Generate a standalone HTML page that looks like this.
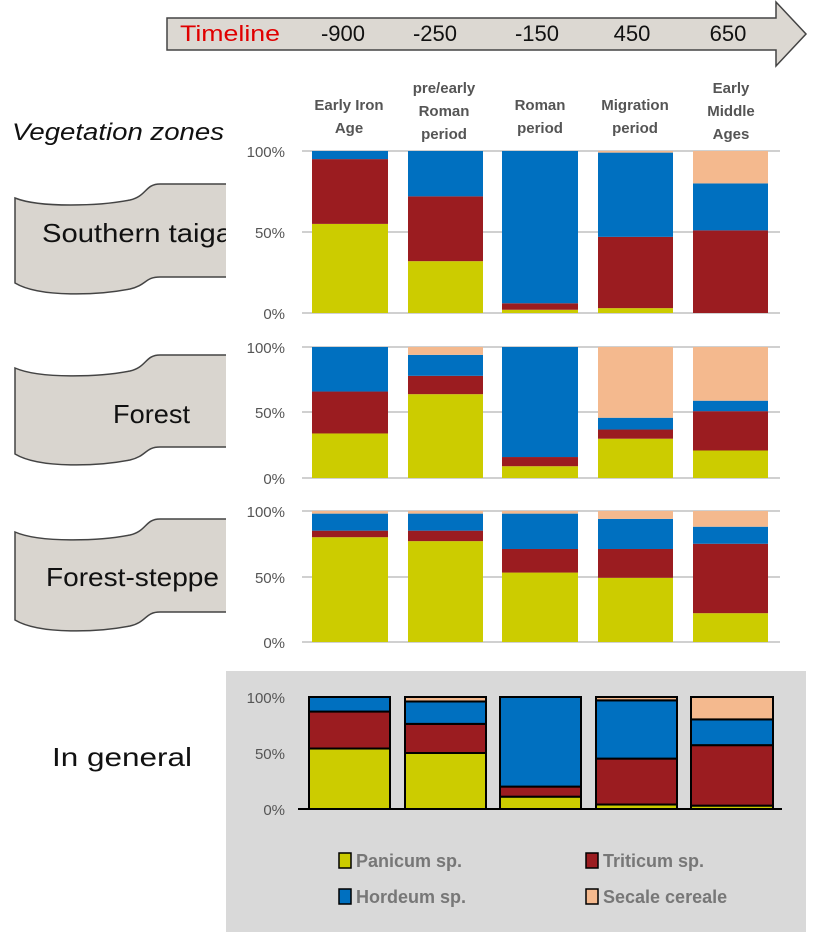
<!DOCTYPE html>
<html><head><meta charset="utf-8"><style>
html,body{margin:0;padding:0;background:#fff;}
svg{display:block;}
</style></head><body>
<svg width="819" height="935" viewBox="0 0 819 935" xmlns="http://www.w3.org/2000/svg" font-family="Liberation Sans, sans-serif">
<path d="M167 18 L776 18 L776 2 L806 34 L776 66 L776 50 L167 50 Z" fill="#dcd8d2" stroke="#444" stroke-width="1.5"/>
<text x="180" y="41" font-size="22" fill="#e00000" textLength="100" lengthAdjust="spacingAndGlyphs">Timeline</text>
<g font-size="22" fill="#111" text-anchor="middle">
<text x="343" y="41">-900</text><text x="435" y="41">-250</text><text x="537" y="41">-150</text><text x="632" y="41">450</text><text x="728" y="41">650</text>
</g>
<text x="12" y="140" font-size="24" font-style="italic" fill="#111" textLength="212" lengthAdjust="spacingAndGlyphs">Vegetation zones</text>
<g font-size="15" fill="#555" text-anchor="middle" font-weight="bold">
<text x="349" y="110">Early Iron</text><text x="349" y="133">Age</text>
<text x="444" y="93">pre/early</text><text x="444" y="116">Roman</text><text x="444" y="139">period</text>
<text x="540" y="110">Roman</text><text x="540" y="133">period</text>
<text x="635" y="110">Migration</text><text x="635" y="133">period</text>
<text x="731" y="93">Early</text><text x="731" y="116">Middle</text><text x="731" y="139">Ages</text>
</g>
<g fill="#d9d5cf" stroke="#444" stroke-width="1.5">
<path d="M226 184 L160 184 C145 184 147 196 130 200 C100 206 40 208 15 198 L15 283 C40 298 100 295 130 289 C147 285 145 277 160 277 L226 277"/>
<path d="M226 355 L160 355 C145 355 147 367 130 371 C100 377 40 379 15 368 L15 454 C40 469 100 466 130 460 C147 456 145 447 160 447 L226 447"/>
<path d="M226 519 L160 519 C145 519 147 531 130 535 C100 541 40 543 15 532 L15 620 C40 635 100 632 130 626 C147 622 145 612 160 612 L226 612"/>
</g>
<g font-size="26" fill="#111" lengthAdjust="spacingAndGlyphs">
<text x="42" y="242" textLength="190" lengthAdjust="spacingAndGlyphs">Southern taiga</text>
<text x="113" y="423" textLength="77" lengthAdjust="spacingAndGlyphs">Forest</text>
<text x="46" y="586" textLength="173" lengthAdjust="spacingAndGlyphs">Forest-steppe</text>
<text x="52" y="766" textLength="140" lengthAdjust="spacingAndGlyphs">In general</text>
</g>
<rect x="226" y="150" width="10" height="160" fill="#fff"/>
<g stroke="#d0d0d0" stroke-width="2">
<line x1="302" y1="151" x2="780" y2="151"/><line x1="302" y1="232" x2="780" y2="232"/><line x1="302" y1="313" x2="780" y2="313"/>
<line x1="302" y1="347" x2="780" y2="347"/><line x1="302" y1="412" x2="780" y2="412"/><line x1="302" y1="478" x2="780" y2="478"/>
<line x1="302" y1="511" x2="780" y2="511"/><line x1="302" y1="577" x2="780" y2="577"/><line x1="302" y1="642" x2="780" y2="642"/>
</g>
<g font-size="15" fill="#555" text-anchor="end">
<text x="285" y="157">100%</text><text x="285" y="238">50%</text><text x="285" y="319">0%</text>
<text x="285" y="353">100%</text><text x="285" y="418">50%</text><text x="285" y="484">0%</text>
<text x="285" y="517">100%</text><text x="285" y="583">50%</text><text x="285" y="648">0%</text>
</g>
<g id="bars"></g>
<rect x="226" y="671" width="580" height="261" fill="#d9d9d9"/>
<g font-size="15" fill="#555" text-anchor="end">
<text x="285" y="703">100%</text><text x="285" y="759">50%</text><text x="285" y="815">0%</text>
</g>
<g id="bars4"></g>
<line x1="298" y1="809" x2="782" y2="809" stroke="#000" stroke-width="2"/>
<g stroke="#000" stroke-width="1.5">
<rect x="339" y="853" width="12" height="15" fill="#cccc00"/>
<rect x="586" y="853" width="12" height="15" fill="#9b1c20"/>
<rect x="339" y="889" width="12" height="15" fill="#0070c0"/>
<rect x="586" y="889" width="12" height="15" fill="#f4b98e"/>
</g>
<g font-size="18" fill="#777" font-weight="bold">
<text x="356" y="867">Panicum sp.</text><text x="603" y="867">Triticum sp.</text>
<text x="356" y="903">Hordeum sp.</text><text x="603" y="903">Secale cereale</text>
</g>
<script>
var C=["#cccc00","#9b1c20","#0070c0","#f4b98e"];
var xs=[[312,76],[408,75],[502,76],[598,75],[693,75]];
var panels=[
 {t:151,b:313,d:[[55,40,5,0],[32,40,28,0],[2,4,94,0],[3,44,52,1],[0,51,29,20]]},
 {t:347,b:478,d:[[34,32,34,0],[64,14,16,6],[9,7,84,0],[30,7,9,54],[21,30,8,41]]},
 {t:511,b:642,d:[[80,5,13,2],[77,8,13,2],[53,18,27,2],[49,22,23,6],[22,53,13,12]]}];
var ns="http://www.w3.org/2000/svg",g=document.getElementById("bars");
panels.forEach(function(p){var h=p.b-p.t;p.d.forEach(function(v,i){var y=p.b;v.forEach(function(f,k){if(!f)return;var hh=f/100*h;var r=document.createElementNS(ns,"rect");r.setAttribute("x",xs[i][0]);r.setAttribute("width",xs[i][1]);r.setAttribute("y",y-hh);r.setAttribute("height",hh);r.setAttribute("fill",C[k]);g.appendChild(r);y-=hh;});});});
var g4=document.getElementById("bars4"),x4=[[309,81],[405,81],[500,81],[596,81],[691,82]];
var d4=[[54,33,13,0],[50,26,20,4],[11,9,80,0],[4,41,52,3],[3,54,23,20]];
d4.forEach(function(v,i){var y=809,h=112;v.forEach(function(f,k){if(!f)return;var hh=f/100*h;var r=document.createElementNS(ns,"rect");r.setAttribute("x",x4[i][0]);r.setAttribute("width",x4[i][1]);r.setAttribute("y",y-hh);r.setAttribute("height",hh);r.setAttribute("fill",C[k]);r.setAttribute("stroke","#000");r.setAttribute("stroke-width","2");g4.appendChild(r);y-=hh;});});
</script>
</svg>
</body></html>
